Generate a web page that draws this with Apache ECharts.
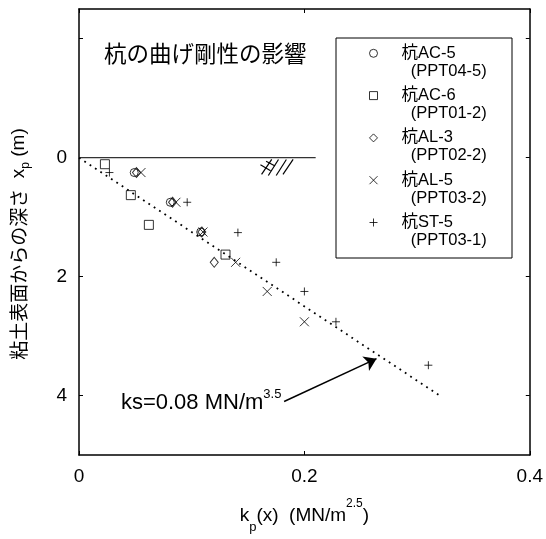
<!DOCTYPE html>
<html>
<head>
<meta charset="utf-8">
<script src="https://cdn.jsdelivr.net/npm/echarts@6/dist/echarts.min.js"></script>
<style>
  html, body { margin: 0; padding: 0; background: #fff; }
  #chart { width: 546px; height: 539px; }
</style>
</head>
<body>
<div id="chart"></div>
<script>
// legend entries (pile name + test name)
const pileNames = ['杭AC-5', '杭AC-6', '杭AL-3', '杭AL-5', '杭ST-5'];
const testNames = ['(PPT04-5)', '(PPT01-2)', '(PPT02-2)', '(PPT03-2)', '(PPT03-1)'];

// [kp (MN/m^2.5), depth xp (m)]
const ac5 = [[0.049, 0.25], [0.081, 0.75], [0.108, 1.25]];
const ac6 = [[0.023, 0.11], [0.046, 0.63], [0.062, 1.13], [0.130, 1.63]];
const al3 = [[0.051, 0.25], [0.083, 0.75], [0.109, 1.25], [0.120, 1.76]];
const al5 = [[0.055, 0.25], [0.086, 0.75], [0.110, 1.25], [0.139, 1.76], [0.167, 2.25], [0.200, 2.76]];
const st5 = [[0.027, 0.25], [0.096, 0.75], [0.141, 1.26], [0.175, 1.76], [0.200, 2.25], [0.228, 2.76], [0.310, 3.49]];

// ks = 0.08 MN/m^3.5 reference line, clay surface, soil hatch
const ksLine = [[0, 0], [0.32, 4.0]];
const surfaceLine = [[0, 0], [0.21, 0]];
const hatchLines = [
  [[0.162, 0.28], [0.171, 0.03]],
  [[0.168, 0.30], [0.177, 0.03]],
  [[0.175, 0.30], [0.184, 0.03]],
  [[0.181, 0.28], [0.190, 0.03]],
  [[0.161, 0.12], [0.170, 0.22]],
  [[0.166, 0.06], [0.174, 0.14]]
];
const arrowFrom = [0.182, 4.10];
const arrowTo = [0.264, 3.38];

// axis ticks
const xTicks = [0, 0.2, 0.4];
const yTicks = [-2, 0, 2, 4];
const yLabels = [0, 2, 4];

const latin = 'Liberation Sans';
const cjk = 'Noto Sans CJK JP';
const symbols = ['circle', 'rect', 'diamond',
  'path://M0,0L10,10M10,0L0,10', 'path://M5,0L5,10M0,5L10,5'];
const sizes = [8, 9, [8, 10], 9, 8];
const pileData = [ac5, ac6, al3, al5, st5];

var chart = echarts.init(document.getElementById('chart'));

const axisLine = { onZero: false, lineStyle: { color: '#000', width: 1.5 } };
const tick = { inside: true, length: 4, lineStyle: { color: '#000', width: 1 } };

let series = pileNames.map((name, i) => ({
  name: name,
  type: 'scatter',
  data: pileData[i],
  symbol: symbols[i],
  symbolSize: sizes[i],
  itemStyle: { color: 'rgba(0,0,0,0)', borderColor: '#000', borderWidth: 1 },
  emphasis: { disabled: true },
  z: 5
}));

series.push({
  type: 'line',
  data: surfaceLine,
  symbol: 'none',
  lineStyle: { color: '#333', width: 1.2 },
  silent: true
});
series.push({
  type: 'lines',
  coordinateSystem: 'cartesian2d',
  data: hatchLines.map((c) => ({ coords: c })),
  lineStyle: { color: '#000', width: 1.2, opacity: 1 },
  silent: true
});
series.push({
  type: 'line',
  data: ksLine,
  symbol: 'none',
  lineStyle: { color: '#000', width: 1.8, type: [1.8, 4.6], cap: 'butt' },
  silent: true,
  markLine: {
    silent: true,
    symbol: ['none', 'arrow'],
    symbolSize: 12,
    lineStyle: { type: 'solid', color: '#000', width: 1.5 },
    label: {
      position: 'start',
      distance: 3,
      formatter: '{a|ks=0.08 MN/m}{b|3.5}',
      rich: {
        a: { fontFamily: latin, fontSize: 22, lineHeight: 30, color: '#000' },
        b: { fontFamily: latin, fontSize: 13, lineHeight: 15, verticalAlign: 'top', color: '#000' }
      }
    },
    data: [[{ coord: arrowFrom }, { coord: arrowTo }]]
  }
});

let option = {
  backgroundColor: '#fff',
  animation: false,
  grid: { left: 79, right: 12, top: 9, bottom: 77 },
  xAxis: [
    {
      type: 'value', min: 0, max: 0.4, interval: 0.2, position: 'bottom',
      axisLine: axisLine, axisTick: tick, splitLine: { show: false },
      axisLabel: { customValues: xTicks, color: '#000', fontFamily: latin, fontSize: 19, margin: 12 },
      name: '{c|k}{s|p}{c|(x)  (MN/m}{t|2.5}{c|)}',
      nameLocation: 'middle',
      nameGap: 43,
      nameTextStyle: {
        rich: {
          c: { fontFamily: latin, fontSize: 19, lineHeight: 36, color: '#000' },
          s: { fontFamily: latin, fontSize: 13, lineHeight: 12, verticalAlign: 'bottom', color: '#000' },
          t: { fontFamily: latin, fontSize: 12, lineHeight: 20, verticalAlign: 'top', color: '#000' }
        }
      }
    },
    {
      type: 'value', min: 0, max: 0.4, interval: 0.2, position: 'top',
      axisLine: axisLine, axisTick: tick, splitLine: { show: false },
      axisLabel: { show: false }
    }
  ],
  yAxis: [
    {
      type: 'value', inverse: true, min: -2.5, max: 5, position: 'left',
      axisLine: axisLine,
      axisTick: Object.assign({ customValues: yTicks }, tick),
      splitLine: { show: false },
      axisLabel: { customValues: yLabels, color: '#000', fontFamily: latin, fontSize: 19, margin: 12 },
      name: '{c|粘土表面からの深さ}{l|  x}{s|p}{l| (m)}',
      nameLocation: 'middle',
      nameGap: 47,
      nameTextStyle: {
        padding: [0, 24, 0, 0],
        rich: {
          c: { fontFamily: cjk, fontSize: 19, lineHeight: 26, color: '#000' },
          l: { fontFamily: latin, fontSize: 19, lineHeight: 26, color: '#000' },
          s: { fontFamily: latin, fontSize: 12, lineHeight: 12, verticalAlign: 'bottom', color: '#000' }
        }
      }
    },
    {
      type: 'value', inverse: true, min: -2.5, max: 5, position: 'right',
      axisLine: axisLine,
      axisTick: Object.assign({ customValues: yTicks }, tick),
      splitLine: { show: false },
      axisLabel: { show: false }
    }
  ],
  legend: {
    data: pileNames,
    orient: 'vertical',
    left: 369,
    top: 26.3,
    padding: 0,
    itemWidth: 8,
    itemHeight: 8,
    itemGap: -11.7,
    selectedMode: false,
    itemStyle: { borderWidth: 1 },
    textStyle: {
      fontFamily: latin + ', ' + cjk,
      fontSize: 16.5,
      lineHeight: 18,
      color: '#000',
      padding: [0, 0, 0, 19]
    },
    // empty first line keeps the pile name level with the icon
    formatter: (name) => '\n' + name + '\n  ' + testNames[pileNames.indexOf(name)]
  },
  graphic: [
    {
      type: 'rect',
      shape: { x: 336, y: 38, width: 176, height: 220 },
      style: { fill: 'none', stroke: '#000', lineWidth: 1 },
      silent: true
    },
    {
      type: 'text',
      left: 104,
      top: 42,
      style: { text: '杭の曲げ剛性の影響', font: '22.5px "Noto Sans CJK JP"', fill: '#000' },
      silent: true
    }
  ],
  series: series
};

chart.setOption(option);
</script>
</body>
</html>
